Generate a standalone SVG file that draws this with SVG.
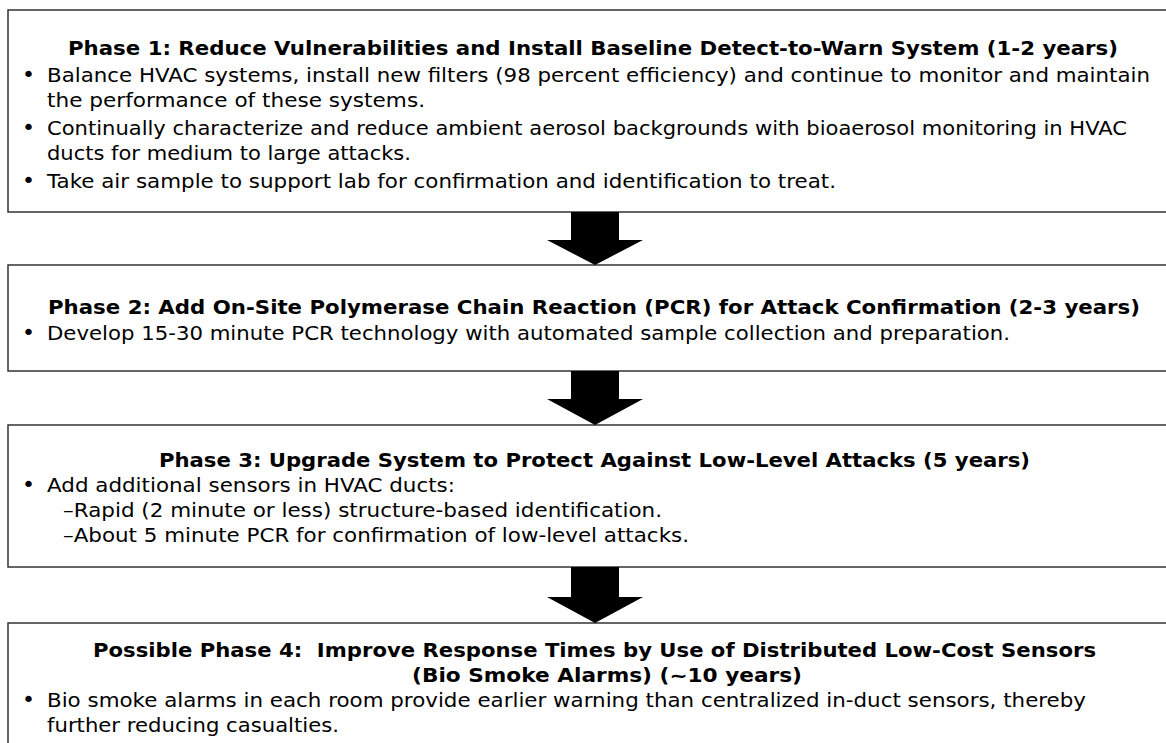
<svg xmlns="http://www.w3.org/2000/svg" width="1166" height="743" viewBox="0 0 1166 743">
<style>
.box{fill:#fff;stroke:#333;stroke-width:1.5}
.t{font-family:"DejaVu Sans",Verdana,sans-serif;font-size:19px;font-weight:bold;fill:#000;white-space:pre}
.b{font-family:"DejaVu Sans",Verdana,sans-serif;font-size:19.5px;fill:#000;white-space:pre}
.bul{font-family:"DejaVu Sans",Verdana,sans-serif;font-size:22px;fill:#000;text-anchor:middle}
.arr{fill:#000}
</style>
<rect x="0" y="0" width="1166" height="743" fill="#fff"/>
<g id="phase1">
<rect class="box" x="8" y="10" width="1180" height="202"/>
<text class="t" x="68" y="55" textLength="1050" lengthAdjust="spacingAndGlyphs">Phase 1: Reduce Vulnerabilities and Install Baseline Detect-to-Warn System (1-2 years)</text>
<text class="bul" x="28.5" y="82">•</text>
<text class="b" x="47" y="82" textLength="1103" lengthAdjust="spacingAndGlyphs">Balance HVAC systems, install new filters (98 percent efficiency) and continue to monitor and maintain</text>
<text class="b" x="47" y="107" textLength="378" lengthAdjust="spacingAndGlyphs">the performance of these systems.</text>
<text class="bul" x="28.5" y="135">•</text>
<text class="b" x="47" y="135" textLength="1080" lengthAdjust="spacingAndGlyphs">Continually characterize and reduce ambient aerosol backgrounds with bioaerosol monitoring in HVAC</text>
<text class="b" x="47" y="160" textLength="364" lengthAdjust="spacingAndGlyphs">ducts for medium to large attacks.</text>
<text class="bul" x="28.5" y="188">•</text>
<text class="b" x="47" y="188" textLength="789" lengthAdjust="spacingAndGlyphs">Take air sample to support lab for confirmation and identification to treat.</text>
</g>
<g id="phase2">
<rect class="box" x="8" y="265" width="1180" height="106"/>
<text class="t" x="48" y="314" textLength="1092" lengthAdjust="spacingAndGlyphs">Phase 2: Add On-Site Polymerase Chain Reaction (PCR) for Attack Confirmation (2-3 years)</text>
<text class="bul" x="28.5" y="340">•</text>
<text class="b" x="47" y="340" textLength="963" lengthAdjust="spacingAndGlyphs">Develop 15-30 minute PCR technology with automated sample collection and preparation.</text>
</g>
<g id="phase3">
<rect class="box" x="8" y="425" width="1180" height="142"/>
<text class="t" x="159" y="467" textLength="871" lengthAdjust="spacingAndGlyphs">Phase 3: Upgrade System to Protect Against Low-Level Attacks (5 years)</text>
<text class="bul" x="28.5" y="492">•</text>
<text class="b" x="47" y="492" textLength="408" lengthAdjust="spacingAndGlyphs">Add additional sensors in HVAC ducts:</text>
<text class="b" x="63" y="517" textLength="599" lengthAdjust="spacingAndGlyphs">–Rapid (2 minute or less) structure-based identification.</text>
<text class="b" x="63" y="542" textLength="626" lengthAdjust="spacingAndGlyphs">–About 5 minute PCR for confirmation of low-level attacks.</text>
</g>
<g id="phase4">
<rect class="box" x="8" y="623" width="1180" height="140"/>
<text class="t" x="93" y="657" textLength="1003" lengthAdjust="spacingAndGlyphs">Possible Phase 4:  Improve Response Times by Use of Distributed Low-Cost Sensors</text>
<text class="t" x="412" y="682" textLength="390" lengthAdjust="spacingAndGlyphs">(Bio Smoke Alarms) (~10 years)</text>
<text class="bul" x="28.5" y="707">•</text>
<text class="b" x="47" y="707" textLength="1039" lengthAdjust="spacingAndGlyphs">Bio smoke alarms in each room provide earlier warning than centralized in-duct sensors, thereby</text>
<text class="b" x="47" y="732" textLength="292" lengthAdjust="spacingAndGlyphs">further reducing casualties.</text>
</g>
<g id="connectors">
<polygon class="arr" points="571,212 619,212 619,240 643,240 595,265 547,240 571,240"/>
<polygon class="arr" points="571,371 619,371 619,399 643,399 595,425 547,399 571,399"/>
<polygon class="arr" points="571,567 619,567 619,597 643,597 595,623 547,597 571,597"/>
</g>
</svg>
